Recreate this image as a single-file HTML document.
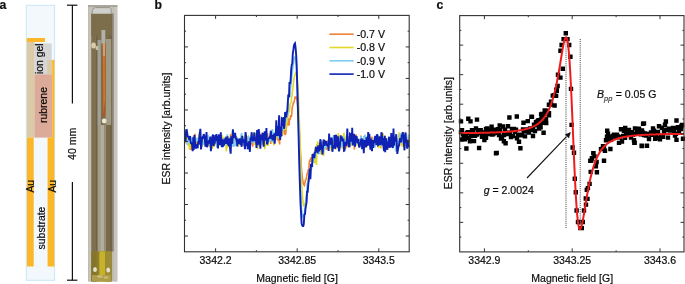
<!DOCTYPE html>
<html><head><meta charset="utf-8"><style>
html,body{margin:0;padding:0;background:#fff;overflow:hidden;}
svg{display:block;font-family:"Liberation Sans", sans-serif;}
svg{will-change:transform;}
text{stroke:#000;stroke-width:0.2px;}
</style></head><body>
<svg width="685" height="284" viewBox="0 0 685 284" fill="#111">
<text x="-0.5" y="9.1" font-size="12.2" font-weight="bold">a</text>
<rect x="26.3" y="5.3" width="28.3" height="275" fill="#f2f8fc" stroke="#c9e7f8" stroke-width="1"/>
<rect x="26.8" y="41.5" width="7.6" height="96" fill="#dccaa6"/>
<rect x="26.8" y="38" width="18.2" height="4" fill="#fbb727"/>
<rect x="34.2" y="43.4" width="17.5" height="31" fill="#d6d6d6"/>
<rect x="34.4" y="74.3" width="17.8" height="63.3" fill="#dcaa98"/>
<rect x="47.2" y="60" width="5.2" height="14.3" fill="#dccaa6"/>
<rect x="52.2" y="59.8" width="2.3" height="78" fill="#fbb727"/>
<rect x="26.9" y="137.5" width="6.8" height="129" fill="#fbb727"/>
<rect x="47.6" y="137.5" width="6.8" height="129" fill="#fbb727"/>
<text transform="translate(42.6,58.8) rotate(-90)" text-anchor="middle" font-size="10.4">ion gel</text>
<text transform="translate(47.2,105) rotate(-90)" text-anchor="middle" font-size="10.4">rubrene</text>
<text transform="translate(33.8,186.2) rotate(-90)" text-anchor="middle" font-size="10.4">Au</text>
<text transform="translate(55.8,186.2) rotate(-90)" text-anchor="middle" font-size="10.4">Au</text>
<text transform="translate(44.9,228) rotate(-90)" text-anchor="middle" font-size="10.4">substrate</text>
<g stroke="#111" stroke-width="1.2" fill="none"><line x1="72.4" y1="5.2" x2="72.4" y2="103.4"/><line x1="72.4" y1="182" x2="72.4" y2="280.2"/><line x1="67" y1="5.2" x2="77.4" y2="5.2"/><line x1="67" y1="280.2" x2="77.4" y2="280.2"/></g>
<text transform="translate(76,143.8) rotate(-90)" text-anchor="middle" font-size="10.6">40 mm</text>
<defs><filter id="bl" x="-0.1" y="-0.05" width="1.2" height="1.1"><feGaussianBlur stdDeviation="0.55"/></filter></defs>
<g filter="url(#bl)">
<rect x="88" y="5" width="29.3" height="276.5" fill="#bfbbb3"/>
<rect x="89" y="5" width="2" height="276.5" fill="#c6c2ba"/>
<rect x="113.8" y="5" width="3.5" height="276.5" fill="#c8c4be"/>
<rect x="88" y="5" width="29.3" height="2" fill="#aaa69e"/>
<rect x="91.3" y="13.5" width="21.2" height="238" fill="#7e6f4f"/>
<rect x="96.2" y="13.5" width="1.4" height="238" fill="#6e5f43"/>
<rect x="97.6" y="40" width="2.6" height="211.5" fill="#a39c8a"/>
<rect x="100.2" y="125" width="4" height="126.5" fill="#b3ad9d"/>
<rect x="104.2" y="125" width="1.8" height="126.5" fill="#9a9280"/>
<rect x="106" y="13.5" width="4.6" height="238" fill="#7a6a4a"/>
<rect x="110.6" y="13.5" width="1.2" height="238" fill="#655736"/>
<rect x="111.8" y="13.5" width="2" height="238" fill="#8f877a"/>
<rect x="91.3" y="13.5" width="20.5" height="22" fill="#7b6d4b"/>
<rect x="91.3" y="7" width="21.2" height="6.8" fill="#c9c9c4" rx="1.5"/>
<rect x="92.5" y="7.8" width="19" height="5" fill="#cfcfcb" rx="2"/>
<path d="M92.3 13.5 V10.5 Q92.3 7.6 95.5 7.6 H109.5 Q111.2 7.6 111.2 10 V13.5" fill="none" stroke="#8f8d86" stroke-width="0.9"/>
<rect x="101.4" y="30" width="3.9" height="14" fill="#aeb2aa"/>
<rect x="105.6" y="39" width="5.6" height="86" fill="#a09a84"/>
<rect x="97.8" y="40" width="3" height="85" fill="#9fa29a"/>
<ellipse cx="93.6" cy="45.5" rx="2.3" ry="3" fill="#d8cfa8"/>
<ellipse cx="97" cy="48" rx="1.5" ry="2.2" fill="#cbc29c"/>
<path d="M102.4 43 L105.4 43 L105.6 70 L105.4 116 L102.6 118 L102 70 Z" fill="#a9582a"/>
<path d="M102.8 43 L105 43 L105 56 L102.9 56 Z" fill="#d2a070"/>
<path d="M103 56 L104.8 56 L104.9 100 L103.4 114 Z" fill="#cc7a2c"/>
<circle cx="104.2" cy="121" r="2.4" fill="#efe9d2"/>
<rect x="91.3" y="251.3" width="20.5" height="30.2" fill="#8e7e2e"/>
<rect x="91.3" y="251.3" width="5.5" height="30.2" fill="#85752c"/>
<rect x="99.3" y="251.3" width="5.8" height="30.2" fill="#c8b22c"/>
<rect x="105.1" y="251.3" width="6.2" height="30.2" fill="#9c8c34"/>
<ellipse cx="95" cy="269.5" rx="1.9" ry="2.5" fill="#e6e2cc"/>
<ellipse cx="108.2" cy="270" rx="1.9" ry="2.5" fill="#e6e2cc"/>
<rect x="92" y="275" width="19" height="6.2" fill="#ad9c48"/>
<ellipse cx="100" cy="276.5" rx="3" ry="1.3" fill="#cdbf78"/>
<ellipse cx="106" cy="277.5" rx="2.5" ry="1.2" fill="#c9bb70"/>
</g>
<text x="154.5" y="9.1" font-size="12.2" font-weight="bold">b</text>
<polyline points="185.0,143.3 185.6,137.6 186.1,135.6 186.7,131.0 187.2,139.8 187.8,145.2 188.3,141.1 188.9,142.7 189.4,144.4 190.0,138.0 190.5,150.0 191.1,138.0 191.6,142.2 192.2,150.3 192.7,140.6 193.3,141.3 193.8,139.2 194.4,142.1 194.9,133.7 195.5,138.8 196.0,146.7 196.6,141.7 197.1,140.1 197.7,142.2 198.2,142.4 198.8,141.5 199.3,142.9 199.9,135.3 200.4,143.0 201.0,138.7 201.5,143.6 202.1,140.9 202.6,137.6 203.2,140.7 203.7,137.5 204.3,144.4 204.8,140.8 205.4,143.8 205.9,137.1 206.5,146.4 207.0,139.9 207.6,145.6 208.1,143.8 208.7,137.2 209.2,142.0 209.8,139.1 210.3,142.3 210.9,145.8 211.4,143.3 212.0,144.6 212.5,136.9 213.1,141.6 213.6,142.1 214.2,144.6 214.7,138.8 215.3,142.9 215.8,142.4 216.4,135.7 216.9,137.4 217.5,142.4 218.0,136.9 218.6,136.7 219.1,143.9 219.7,141.9 220.2,140.1 220.8,141.3 221.3,139.5 221.9,139.1 222.4,139.3 223.0,142.2 223.5,145.4 224.1,139.3 224.6,140.6 225.2,140.1 225.7,136.6 226.3,141.7 226.8,143.8 227.4,138.0 227.9,143.7 228.5,138.9 229.0,144.8 229.6,145.0 230.1,139.6 230.7,134.0 231.2,139.7 231.8,136.1 232.3,136.4 232.9,140.0 233.4,145.5 234.0,140.5 234.5,140.1 235.1,134.5 235.6,138.8 236.2,136.1 236.7,142.6 237.3,139.0 237.8,140.6 238.4,140.7 238.9,140.1 239.5,144.0 240.0,142.4 240.6,139.7 241.1,141.3 241.7,142.6 242.2,145.4 242.8,141.2 243.3,145.6 243.9,138.7 244.4,139.9 245.0,135.6 245.5,143.5 246.1,137.2 246.6,137.2 247.2,143.5 247.7,138.8 248.3,138.1 248.8,143.9 249.4,140.0 249.9,143.7 250.5,139.2 251.0,143.1 251.6,144.2 252.1,140.8 252.7,146.7 253.2,139.2 253.8,139.8 254.3,140.8 254.9,143.9 255.4,139.5 256.0,138.9 256.5,141.3 257.1,144.6 257.6,138.9 258.2,136.0 258.7,139.9 259.3,142.4 259.8,138.4 260.4,140.6 260.9,133.8 261.5,140.2 262.0,140.5 262.6,142.2 263.1,141.1 263.7,142.6 264.2,136.6 264.8,142.2 265.3,134.3 265.9,137.8 266.4,143.5 267.0,142.6 267.5,133.3 268.1,141.6 268.6,138.0 269.2,136.8 269.7,140.0 270.3,139.7 270.8,143.9 271.4,134.2 271.9,137.5 272.5,138.3 273.0,132.5 273.6,142.6 274.1,144.4 274.7,136.2 275.2,139.4 275.8,137.0 276.3,138.7 276.9,135.2 277.4,140.1 278.0,133.1 278.5,141.4 279.1,137.7 279.6,144.4 280.2,130.2 280.7,135.1 281.3,130.6 281.8,134.1 282.4,135.5 282.9,130.4 283.5,128.0 284.0,126.3 284.6,132.2 285.1,135.0 285.7,133.7 286.2,128.9 286.8,124.4 287.3,125.2 287.9,119.9 288.4,118.2 289.0,125.6 289.5,119.2 290.1,119.2 290.6,115.2 291.2,117.3 291.7,114.7 292.3,107.2 292.8,105.6 293.4,102.7 293.9,102.7 294.5,100.1 295.0,97.4 295.6,97.9 296.1,97.1 296.7,98.1 297.2,101.0 297.8,107.1 298.3,114.3 298.9,122.5 299.4,132.7 300.0,143.5 300.5,152.9 301.1,162.6 301.6,170.9 302.2,176.5 302.7,180.3 303.3,183.5 303.8,184.7 304.4,185.4 304.9,182.9 305.5,180.0 306.0,179.6 306.6,177.3 307.1,173.5 307.7,172.9 308.2,170.0 308.8,170.3 309.3,162.1 309.9,160.3 310.4,160.7 311.0,157.4 311.5,161.9 312.1,158.1 312.6,154.8 313.2,158.9 313.7,154.4 314.3,155.1 314.8,153.6 315.4,149.6 315.9,148.9 316.5,148.8 317.0,144.5 317.6,146.5 318.1,150.1 318.7,147.8 319.2,143.1 319.8,154.0 320.3,142.1 320.9,147.4 321.4,147.5 322.0,149.1 322.5,141.6 323.1,144.4 323.6,143.5 324.2,147.8 324.7,145.1 325.3,145.1 325.8,145.3 326.4,150.0 326.9,145.6 327.5,146.2 328.0,139.9 328.6,145.3 329.1,138.6 329.7,146.0 330.2,143.2 330.8,139.7 331.3,138.7 331.9,142.2 332.4,142.9 333.0,140.5 333.5,141.3 334.1,141.3 334.6,140.5 335.2,141.6 335.7,143.2 336.3,146.6 336.8,144.3 337.4,140.2 337.9,147.6 338.5,146.1 339.0,141.2 339.6,145.5 340.1,140.2 340.7,139.5 341.2,139.6 341.8,147.5 342.3,142.4 342.9,143.0 343.4,142.2 344.0,140.6 344.5,143.6 345.1,144.2 345.6,148.6 346.2,139.0 346.7,147.1 347.3,144.2 347.8,136.0 348.4,145.2 348.9,147.4 349.5,145.6 350.0,142.7 350.6,142.4 351.1,135.1 351.7,142.9 352.2,142.4 352.8,138.6 353.3,142.5 353.9,139.5 354.4,149.4 355.0,137.6 355.5,138.7 356.1,134.4 356.6,140.3 357.2,142.0 357.7,141.6 358.3,139.4 358.8,144.5 359.4,142.3 359.9,145.5 360.5,141.1 361.0,135.5 361.6,141.0 362.1,138.0 362.7,144.2 363.2,139.4 363.8,140.6 364.3,141.3 364.9,136.2 365.4,140.0 366.0,144.3 366.5,139.4 367.1,140.7 367.6,141.8 368.2,139.0 368.7,140.3 369.3,142.7 369.8,140.0 370.4,141.4 370.9,140.7 371.5,137.7 372.0,136.8 372.6,147.9 373.1,145.9 373.7,140.8 374.2,144.4 374.8,144.9 375.3,144.4 375.9,139.9 376.4,136.3 377.0,136.9 377.5,140.3 378.1,145.7 378.6,146.5 379.2,140.3 379.7,140.0 380.3,145.2 380.8,148.2 381.4,138.0 381.9,142.8 382.5,141.7 383.0,140.1 383.6,140.1 384.1,140.0 384.7,141.2 385.2,135.9 385.8,141.2 386.3,143.8 386.9,143.7 387.4,143.9 388.0,142.3 388.5,141.8 389.1,147.8 389.6,140.6 390.2,141.7 390.7,145.4 391.3,141.3 391.8,136.8 392.4,139.3 392.9,139.7 393.5,140.6 394.0,139.6 394.6,144.5 395.1,143.6 395.7,142.8 396.2,139.8 396.8,144.6 397.3,144.5 397.9,148.6 398.4,139.1 399.0,140.8 399.5,145.9 400.1,137.5 400.6,142.1 401.2,141.9 401.7,141.4 402.3,138.0 402.8,141.3 403.4,136.2 403.9,145.2 404.5,139.5 405.0,141.7 405.6,141.1 406.1,141.8 406.7,141.6 407.2,142.6 407.8,139.9 408.3,141.3 408.9,137.4" fill="none" stroke="#f08234" stroke-width="1.6" stroke-linejoin="miter" stroke-miterlimit="3"/>
<polyline points="185.0,142.3 185.6,140.9 186.1,138.9 186.7,132.3 187.2,141.0 187.8,144.5 188.3,144.9 188.9,138.9 189.4,149.4 190.0,148.3 190.5,140.1 191.1,140.4 191.6,144.6 192.2,140.0 192.7,141.8 193.3,145.6 193.8,145.5 194.4,138.9 194.9,139.2 195.5,138.9 196.0,140.9 196.6,141.2 197.1,139.5 197.7,143.9 198.2,141.1 198.8,141.0 199.3,133.4 199.9,135.7 200.4,138.3 201.0,142.3 201.5,137.6 202.1,146.8 202.6,141.5 203.2,141.9 203.7,141.4 204.3,142.8 204.8,144.4 205.4,138.8 205.9,146.9 206.5,138.0 207.0,142.9 207.6,140.1 208.1,140.3 208.7,143.5 209.2,141.7 209.8,147.0 210.3,139.0 210.9,142.9 211.4,143.1 212.0,148.9 212.5,147.0 213.1,143.6 213.6,147.2 214.2,144.1 214.7,137.9 215.3,142.1 215.8,145.5 216.4,138.9 216.9,146.7 217.5,142.2 218.0,138.5 218.6,142.6 219.1,134.9 219.7,138.2 220.2,136.9 220.8,142.8 221.3,137.0 221.9,134.9 222.4,142.0 223.0,139.0 223.5,138.1 224.1,138.6 224.6,144.8 225.2,141.5 225.7,138.0 226.3,151.5 226.8,142.7 227.4,148.1 227.9,144.8 228.5,146.0 229.0,137.5 229.6,138.6 230.1,143.2 230.7,140.5 231.2,141.1 231.8,144.9 232.3,132.0 232.9,139.5 233.4,146.6 234.0,139.0 234.5,140.9 235.1,142.2 235.6,141.9 236.2,141.9 236.7,137.2 237.3,142.0 237.8,138.4 238.4,146.7 238.9,138.3 239.5,141.7 240.0,139.9 240.6,145.0 241.1,141.1 241.7,143.3 242.2,138.5 242.8,139.2 243.3,137.0 243.9,140.0 244.4,139.5 245.0,136.3 245.5,135.8 246.1,141.2 246.6,139.9 247.2,137.8 247.7,137.0 248.3,136.3 248.8,140.8 249.4,138.4 249.9,138.0 250.5,138.3 251.0,138.6 251.6,139.2 252.1,140.7 252.7,133.7 253.2,139.3 253.8,135.7 254.3,138.9 254.9,145.0 255.4,132.9 256.0,135.3 256.5,138.2 257.1,131.4 257.6,149.2 258.2,137.6 258.7,146.2 259.3,139.7 259.8,144.4 260.4,143.0 260.9,138.7 261.5,141.7 262.0,137.2 262.6,137.9 263.1,145.3 263.7,136.3 264.2,136.1 264.8,149.2 265.3,137.9 265.9,140.5 266.4,145.5 267.0,137.3 267.5,136.9 268.1,145.9 268.6,138.8 269.2,139.8 269.7,137.4 270.3,140.5 270.8,132.3 271.4,138.9 271.9,141.9 272.5,141.6 273.0,135.8 273.6,140.0 274.1,145.5 274.7,137.6 275.2,139.5 275.8,135.3 276.3,129.8 276.9,138.9 277.4,132.1 278.0,132.7 278.5,135.2 279.1,134.5 279.6,133.7 280.2,137.9 280.7,133.6 281.3,132.6 281.8,127.7 282.4,134.6 282.9,125.4 283.5,120.8 284.0,125.4 284.6,130.1 285.1,127.5 285.7,129.7 286.2,125.0 286.8,123.3 287.3,121.3 287.9,115.7 288.4,114.2 289.0,111.8 289.5,111.5 290.1,104.4 290.6,103.2 291.2,102.1 291.7,97.3 292.3,92.9 292.8,89.0 293.4,83.2 293.9,79.4 294.5,76.7 295.0,75.1 295.6,72.9 296.1,72.2 296.7,74.0 297.2,78.3 297.8,83.5 298.3,94.7 298.9,108.4 299.4,124.1 300.0,139.6 300.5,156.1 301.1,170.4 301.6,182.4 302.2,191.7 302.7,198.9 303.3,203.9 303.8,205.9 304.4,205.7 304.9,204.5 305.5,201.9 306.0,198.1 306.6,194.9 307.1,190.9 307.7,182.1 308.2,179.3 308.8,180.0 309.3,178.3 309.9,173.1 310.4,168.8 311.0,168.1 311.5,166.8 312.1,163.6 312.6,153.5 313.2,160.6 313.7,160.6 314.3,156.8 314.8,163.5 315.4,148.6 315.9,146.1 316.5,164.9 317.0,147.4 317.6,141.2 318.1,147.6 318.7,152.3 319.2,145.8 319.8,146.4 320.3,150.4 320.9,154.5 321.4,149.6 322.0,147.5 322.5,144.3 323.1,148.6 323.6,156.0 324.2,140.9 324.7,140.8 325.3,143.3 325.8,147.2 326.4,146.6 326.9,143.2 327.5,142.1 328.0,148.9 328.6,145.4 329.1,148.6 329.7,142.5 330.2,147.6 330.8,139.9 331.3,150.9 331.9,141.4 332.4,141.5 333.0,144.4 333.5,142.0 334.1,140.3 334.6,144.3 335.2,140.0 335.7,149.7 336.3,139.7 336.8,145.4 337.4,139.4 337.9,135.6 338.5,133.3 339.0,142.3 339.6,136.7 340.1,142.5 340.7,138.9 341.2,141.6 341.8,141.8 342.3,148.6 342.9,141.1 343.4,136.5 344.0,132.9 344.5,145.2 345.1,142.1 345.6,147.1 346.2,135.6 346.7,140.9 347.3,138.5 347.8,143.5 348.4,140.4 348.9,146.9 349.5,139.9 350.0,140.7 350.6,139.1 351.1,143.3 351.7,145.6 352.2,143.5 352.8,139.1 353.3,137.4 353.9,138.0 354.4,142.1 355.0,139.5 355.5,140.8 356.1,145.7 356.6,143.2 357.2,142.2 357.7,139.5 358.3,140.6 358.8,140.2 359.4,141.5 359.9,140.5 360.5,141.9 361.0,138.9 361.6,146.2 362.1,142.7 362.7,142.4 363.2,144.7 363.8,137.2 364.3,136.7 364.9,135.6 365.4,138.4 366.0,143.4 366.5,141.9 367.1,147.2 367.6,135.9 368.2,142.9 368.7,136.4 369.3,136.3 369.8,136.4 370.4,145.8 370.9,141.5 371.5,146.0 372.0,141.5 372.6,143.8 373.1,143.7 373.7,143.3 374.2,141.7 374.8,144.8 375.3,141.9 375.9,141.5 376.4,141.3 377.0,138.9 377.5,135.4 378.1,138.2 378.6,147.9 379.2,141.7 379.7,137.3 380.3,140.1 380.8,144.8 381.4,148.2 381.9,134.0 382.5,135.0 383.0,133.0 383.6,138.8 384.1,137.6 384.7,145.5 385.2,143.6 385.8,139.0 386.3,149.9 386.9,138.8 387.4,142.3 388.0,144.0 388.5,137.3 389.1,141.6 389.6,142.1 390.2,140.5 390.7,143.8 391.3,140.5 391.8,138.6 392.4,144.3 392.9,139.2 393.5,142.8 394.0,139.2 394.6,143.3 395.1,141.6 395.7,136.5 396.2,142.7 396.8,139.4 397.3,147.8 397.9,139.0 398.4,144.3 399.0,132.4 399.5,139.1 400.1,134.2 400.6,141.2 401.2,138.0 401.7,146.3 402.3,143.7 402.8,146.7 403.4,137.6 403.9,132.6 404.5,141.0 405.0,146.4 405.6,142.2 406.1,148.3 406.7,140.1 407.2,138.5 407.8,143.1 408.3,145.2 408.9,139.6" fill="none" stroke="#e2d829" stroke-width="1.6" stroke-linejoin="miter" stroke-miterlimit="3"/>
<polyline points="185.0,137.2 185.6,140.0 186.1,140.0 186.7,140.1 187.2,144.7 187.8,141.4 188.3,142.2 188.9,141.0 189.4,137.9 190.0,141.5 190.5,143.4 191.1,141.3 191.6,139.1 192.2,136.8 192.7,146.5 193.3,138.2 193.8,138.2 194.4,136.5 194.9,142.0 195.5,141.3 196.0,138.3 196.6,140.3 197.1,141.6 197.7,139.6 198.2,137.4 198.8,139.9 199.3,141.6 199.9,137.6 200.4,138.9 201.0,142.9 201.5,144.5 202.1,143.5 202.6,141.8 203.2,144.8 203.7,139.4 204.3,140.5 204.8,140.2 205.4,143.8 205.9,138.3 206.5,139.3 207.0,146.3 207.6,139.3 208.1,134.7 208.7,143.4 209.2,144.1 209.8,137.8 210.3,137.8 210.9,138.8 211.4,141.1 212.0,144.9 212.5,144.1 213.1,136.3 213.6,145.8 214.2,138.3 214.7,141.8 215.3,140.6 215.8,139.6 216.4,137.0 216.9,148.0 217.5,140.8 218.0,145.5 218.6,138.6 219.1,142.9 219.7,139.2 220.2,142.3 220.8,144.2 221.3,138.1 221.9,140.5 222.4,142.3 223.0,144.5 223.5,144.3 224.1,139.1 224.6,137.5 225.2,140.2 225.7,143.7 226.3,144.3 226.8,136.5 227.4,134.4 227.9,138.9 228.5,141.8 229.0,144.8 229.6,138.1 230.1,140.1 230.7,144.2 231.2,138.3 231.8,143.6 232.3,146.0 232.9,144.4 233.4,146.8 234.0,139.9 234.5,136.1 235.1,146.3 235.6,143.5 236.2,145.5 236.7,141.6 237.3,137.2 237.8,139.4 238.4,139.8 238.9,138.7 239.5,141.5 240.0,142.0 240.6,139.1 241.1,135.0 241.7,133.0 242.2,140.5 242.8,140.4 243.3,138.2 243.9,146.0 244.4,138.4 245.0,142.7 245.5,142.5 246.1,138.4 246.6,145.0 247.2,142.0 247.7,141.6 248.3,136.2 248.8,138.1 249.4,137.0 249.9,139.9 250.5,140.5 251.0,143.0 251.6,135.1 252.1,141.1 252.7,140.9 253.2,143.0 253.8,132.0 254.3,142.1 254.9,135.8 255.4,139.8 256.0,138.1 256.5,137.1 257.1,143.3 257.6,142.5 258.2,143.9 258.7,140.8 259.3,135.4 259.8,142.5 260.4,141.2 260.9,144.8 261.5,140.5 262.0,137.5 262.6,141.0 263.1,136.3 263.7,138.6 264.2,139.1 264.8,140.8 265.3,139.1 265.9,137.2 266.4,140.8 267.0,142.5 267.5,141.6 268.1,141.5 268.6,138.9 269.2,141.8 269.7,136.7 270.3,132.6 270.8,136.8 271.4,141.6 271.9,131.9 272.5,129.1 273.0,141.9 273.6,131.8 274.1,138.2 274.7,133.3 275.2,138.5 275.8,131.1 276.3,131.4 276.9,135.1 277.4,133.2 278.0,135.5 278.5,138.3 279.1,130.8 279.6,131.3 280.2,130.1 280.7,128.3 281.3,131.8 281.8,127.0 282.4,128.6 282.9,130.9 283.5,120.7 284.0,122.5 284.6,121.6 285.1,119.3 285.7,122.2 286.2,118.3 286.8,114.8 287.3,109.8 287.9,115.1 288.4,96.0 289.0,95.5 289.5,96.9 290.1,96.5 290.6,87.4 291.2,84.2 291.7,76.3 292.3,73.5 292.8,67.9 293.4,64.2 293.9,59.8 294.5,57.3 295.0,56.9 295.6,58.2 296.1,64.1 296.7,73.1 297.2,84.7 297.8,101.4 298.3,119.4 298.9,138.7 299.4,158.1 300.0,174.5 300.5,190.2 301.1,200.8 301.6,209.6 302.2,213.9 302.7,217.1 303.3,216.7 303.8,214.8 304.4,212.9 304.9,209.2 305.5,205.5 306.0,198.6 306.6,196.1 307.1,185.5 307.7,182.4 308.2,181.5 308.8,177.2 309.3,173.1 309.9,176.2 310.4,175.5 311.0,166.4 311.5,169.4 312.1,162.2 312.6,159.3 313.2,162.7 313.7,159.0 314.3,151.6 314.8,155.7 315.4,157.4 315.9,147.8 316.5,149.7 317.0,152.0 317.6,146.7 318.1,146.8 318.7,153.0 319.2,154.2 319.8,146.9 320.3,145.7 320.9,145.8 321.4,140.6 322.0,146.5 322.5,147.6 323.1,148.5 323.6,152.3 324.2,142.3 324.7,148.9 325.3,145.4 325.8,143.3 326.4,147.2 326.9,143.7 327.5,141.6 328.0,146.4 328.6,141.8 329.1,144.6 329.7,146.1 330.2,144.5 330.8,139.7 331.3,145.7 331.9,146.6 332.4,139.8 333.0,139.6 333.5,135.0 334.1,141.6 334.6,137.8 335.2,142.8 335.7,143.5 336.3,146.3 336.8,141.0 337.4,140.2 337.9,143.8 338.5,140.8 339.0,142.8 339.6,144.0 340.1,138.2 340.7,147.1 341.2,141.5 341.8,145.9 342.3,145.6 342.9,139.6 343.4,136.2 344.0,144.8 344.5,145.7 345.1,140.3 345.6,141.3 346.2,140.2 346.7,142.9 347.3,136.3 347.8,140.6 348.4,144.3 348.9,143.7 349.5,137.8 350.0,146.7 350.6,138.2 351.1,142.0 351.7,138.4 352.2,141.8 352.8,141.0 353.3,142.5 353.9,145.4 354.4,137.6 355.0,139.4 355.5,142.2 356.1,136.8 356.6,142.1 357.2,141.4 357.7,141.0 358.3,143.5 358.8,144.9 359.4,141.3 359.9,139.2 360.5,142.4 361.0,136.1 361.6,142.4 362.1,143.5 362.7,144.2 363.2,148.1 363.8,136.1 364.3,141.2 364.9,134.7 365.4,139.1 366.0,136.6 366.5,143.2 367.1,143.2 367.6,136.0 368.2,141.8 368.7,142.2 369.3,144.7 369.8,136.9 370.4,144.0 370.9,140.5 371.5,140.0 372.0,143.1 372.6,142.6 373.1,141.6 373.7,143.7 374.2,146.4 374.8,147.7 375.3,142.6 375.9,143.5 376.4,134.9 377.0,144.0 377.5,134.0 378.1,141.5 378.6,144.0 379.2,137.9 379.7,141.1 380.3,137.7 380.8,145.9 381.4,140.7 381.9,145.5 382.5,139.9 383.0,142.7 383.6,137.6 384.1,136.5 384.7,146.9 385.2,148.1 385.8,140.4 386.3,140.0 386.9,140.3 387.4,142.2 388.0,138.9 388.5,144.3 389.1,142.1 389.6,143.3 390.2,140.7 390.7,145.5 391.3,138.7 391.8,136.7 392.4,141.0 392.9,142.6 393.5,143.1 394.0,140.3 394.6,138.8 395.1,139.8 395.7,151.4 396.2,136.2 396.8,140.2 397.3,142.0 397.9,141.1 398.4,143.8 399.0,143.8 399.5,142.3 400.1,134.1 400.6,133.8 401.2,138.8 401.7,141.2 402.3,142.2 402.8,140.0 403.4,137.3 403.9,143.4 404.5,139.1 405.0,143.5 405.6,141.0 406.1,138.2 406.7,146.7 407.2,140.2 407.8,139.5 408.3,135.6 408.9,136.4" fill="none" stroke="#7fcdf3" stroke-width="1.6" stroke-linejoin="miter" stroke-miterlimit="3"/>
<polyline points="185.0,137.2 185.6,141.5 186.1,130.3 186.7,130.1 187.2,133.0 187.8,136.4 188.3,136.8 188.9,138.4 189.4,139.9 190.0,136.0 190.5,140.9 191.1,144.2 191.6,142.4 192.2,145.9 192.7,151.2 193.3,137.4 193.8,149.9 194.4,135.0 194.9,140.6 195.5,146.6 196.0,148.6 196.6,144.8 197.1,144.9 197.7,148.3 198.2,141.4 198.8,144.8 199.3,137.0 199.9,132.2 200.4,128.9 201.0,149.4 201.5,144.6 202.1,137.9 202.6,137.3 203.2,137.6 203.7,134.1 204.3,135.8 204.8,138.3 205.4,146.6 205.9,142.5 206.5,132.0 207.0,147.2 207.6,145.6 208.1,141.7 208.7,141.1 209.2,143.5 209.8,141.6 210.3,136.6 210.9,151.2 211.4,145.8 212.0,143.0 212.5,136.2 213.1,134.6 213.6,146.0 214.2,142.5 214.7,143.7 215.3,135.0 215.8,141.1 216.4,134.0 216.9,138.4 217.5,140.5 218.0,148.5 218.6,136.7 219.1,134.5 219.7,143.9 220.2,144.9 220.8,132.4 221.3,144.1 221.9,147.0 222.4,139.0 223.0,141.8 223.5,145.4 224.1,144.6 224.6,140.2 225.2,139.2 225.7,142.2 226.3,143.7 226.8,139.3 227.4,136.4 227.9,144.0 228.5,145.0 229.0,146.0 229.6,138.4 230.1,149.3 230.7,153.6 231.2,136.3 231.8,142.2 232.3,143.8 232.9,129.4 233.4,138.3 234.0,133.7 234.5,137.5 235.1,132.9 235.6,137.3 236.2,139.3 236.7,138.2 237.3,146.5 237.8,139.3 238.4,143.7 238.9,142.7 239.5,139.5 240.0,139.3 240.6,144.8 241.1,144.0 241.7,146.8 242.2,135.8 242.8,142.5 243.3,139.7 243.9,140.9 244.4,144.5 245.0,149.2 245.5,132.1 246.1,135.8 246.6,145.8 247.2,142.6 247.7,149.3 248.3,145.2 248.8,141.3 249.4,143.3 249.9,151.9 250.5,137.9 251.0,140.4 251.6,132.2 252.1,138.0 252.7,141.3 253.2,138.9 253.8,141.3 254.3,132.5 254.9,138.1 255.4,139.7 256.0,139.7 256.5,148.0 257.1,130.0 257.6,145.0 258.2,143.4 258.7,129.0 259.3,133.8 259.8,142.1 260.4,148.6 260.9,134.7 261.5,137.8 262.0,139.7 262.6,132.7 263.1,141.0 263.7,146.7 264.2,136.0 264.8,131.4 265.3,140.1 265.9,138.4 266.4,128.1 267.0,144.1 267.5,143.4 268.1,139.0 268.6,138.6 269.2,138.0 269.7,137.0 270.3,138.8 270.8,130.7 271.4,135.8 271.9,135.0 272.5,140.3 273.0,137.7 273.6,135.1 274.1,134.7 274.7,143.7 275.2,136.8 275.8,134.1 276.3,120.4 276.9,135.9 277.4,126.0 278.0,134.7 278.5,135.8 279.1,115.2 279.6,132.9 280.2,140.0 280.7,126.9 281.3,136.4 281.8,118.6 282.4,119.2 282.9,126.0 283.5,117.0 284.0,128.8 284.6,124.7 285.1,112.0 285.7,116.0 286.2,117.5 286.8,112.7 287.3,110.7 287.9,100.7 288.4,94.4 289.0,97.1 289.5,82.0 290.1,84.2 290.6,80.5 291.2,69.7 291.7,65.0 292.3,63.6 292.8,53.4 293.4,49.7 293.9,45.7 294.5,43.9 295.0,43.3 295.6,47.8 296.1,53.9 296.7,65.4 297.2,85.0 297.8,104.6 298.3,124.5 298.9,148.5 299.4,168.6 300.0,187.7 300.5,203.2 301.1,214.2 301.6,223.4 302.2,225.4 302.7,226.1 303.3,226.1 303.8,224.2 304.4,214.1 304.9,215.0 305.5,208.6 306.0,205.6 306.6,201.9 307.1,190.9 307.7,192.8 308.2,185.0 308.8,180.0 309.3,173.6 309.9,168.5 310.4,179.2 311.0,163.9 311.5,164.8 312.1,166.9 312.6,154.0 313.2,157.0 313.7,154.0 314.3,158.1 314.8,153.0 315.4,151.9 315.9,146.8 316.5,151.1 317.0,151.6 317.6,152.2 318.1,145.6 318.7,147.4 319.2,151.2 319.8,148.8 320.3,139.2 320.9,143.0 321.4,147.9 322.0,147.3 322.5,154.8 323.1,146.2 323.6,139.5 324.2,141.2 324.7,145.9 325.3,140.6 325.8,143.4 326.4,141.2 326.9,144.7 327.5,146.0 328.0,143.9 328.6,150.9 329.1,133.5 329.7,144.6 330.2,143.7 330.8,143.5 331.3,137.5 331.9,139.2 332.4,151.8 333.0,147.3 333.5,145.6 334.1,148.0 334.6,135.1 335.2,148.9 335.7,134.9 336.3,136.1 336.8,140.6 337.4,147.5 337.9,136.4 338.5,147.0 339.0,151.4 339.6,148.3 340.1,144.0 340.7,135.3 341.2,138.8 341.8,136.6 342.3,140.5 342.9,140.7 343.4,138.5 344.0,150.8 344.5,150.6 345.1,143.5 345.6,142.0 346.2,145.8 346.7,142.4 347.3,128.5 347.8,140.1 348.4,142.0 348.9,146.4 349.5,146.4 350.0,133.8 350.6,134.3 351.1,136.6 351.7,141.6 352.2,127.7 352.8,145.4 353.3,137.4 353.9,134.0 354.4,136.6 355.0,146.8 355.5,136.6 356.1,137.2 356.6,136.1 357.2,142.1 357.7,143.2 358.3,138.9 358.8,145.6 359.4,147.5 359.9,145.2 360.5,143.6 361.0,140.0 361.6,138.6 362.1,149.3 362.7,139.5 363.2,140.8 363.8,153.3 364.3,140.3 364.9,142.7 365.4,140.3 366.0,147.4 366.5,137.2 367.1,141.2 367.6,146.0 368.2,132.0 368.7,145.1 369.3,133.8 369.8,142.3 370.4,149.7 370.9,138.5 371.5,148.0 372.0,151.1 372.6,140.1 373.1,147.8 373.7,141.6 374.2,143.1 374.8,137.5 375.3,136.2 375.9,140.6 376.4,145.2 377.0,134.3 377.5,135.4 378.1,145.0 378.6,144.6 379.2,142.3 379.7,136.3 380.3,144.7 380.8,142.7 381.4,132.3 381.9,133.9 382.5,145.5 383.0,138.0 383.6,148.0 384.1,151.0 384.7,135.8 385.2,152.1 385.8,138.1 386.3,141.2 386.9,146.2 387.4,149.8 388.0,141.9 388.5,142.9 389.1,136.7 389.6,147.6 390.2,146.3 390.7,146.4 391.3,133.1 391.8,145.5 392.4,145.1 392.9,148.0 393.5,128.6 394.0,145.7 394.6,136.7 395.1,141.3 395.7,140.3 396.2,134.2 396.8,144.9 397.3,153.9 397.9,150.0 398.4,147.2 399.0,145.4 399.5,141.6 400.1,138.1 400.6,139.3 401.2,142.4 401.7,135.6 402.3,134.4 402.8,132.2 403.4,136.6 403.9,143.6 404.5,150.3 405.0,136.0 405.6,132.5 406.1,141.2 406.7,141.1 407.2,148.7 407.8,139.8 408.3,147.1 408.9,145.5" fill="none" stroke="#0f22b4" stroke-width="1.9" stroke-linejoin="miter" stroke-miterlimit="3"/>
<rect x="184.5" y="15.4" width="224.7" height="236.4" fill="none" stroke="#333" stroke-width="1.1"/>
<path d="M184.5 31.16h1.6M409.2 31.16h-1.6M184.5 46.92h3.5M409.2 46.92h-3.5M184.5 62.68h1.6M409.2 62.68h-1.6M184.5 78.44h3.5M409.2 78.44h-3.5M184.5 94.20h1.6M409.2 94.20h-1.6M184.5 109.96h3.5M409.2 109.96h-3.5M184.5 125.72h1.6M409.2 125.72h-1.6M184.5 141.48h3.5M409.2 141.48h-3.5M184.5 157.24h1.6M409.2 157.24h-1.6M184.5 173.00h3.5M409.2 173.00h-3.5M184.5 188.76h1.6M409.2 188.76h-1.6M184.5 204.52h3.5M409.2 204.52h-3.5M184.5 220.28h1.6M409.2 220.28h-1.6M184.5 236.04h3.5M409.2 236.04h-3.5M215.6 251.8v-3.5M215.6 15.4v3.5M256.4 251.8v-1.6M256.4 15.4v1.6M297.2 251.8v-3.5M297.2 15.4v3.5M338.0 251.8v-1.6M338.0 15.4v1.6M378.8 251.8v-3.5M378.8 15.4v3.5" stroke="#333" stroke-width="1" fill="none"/>
<text x="215.6" y="264" font-size="10.5" text-anchor="middle">3342.2</text>
<text x="297.2" y="264" font-size="10.5" text-anchor="middle">3342.85</text>
<text x="378.8" y="264" font-size="10.5" text-anchor="middle">3343.5</text>
<text x="297" y="282" font-size="10.5" text-anchor="middle">Magnetic field [G]</text>
<text transform="translate(170,128.5) rotate(-90)" font-size="10.5" text-anchor="middle">ESR intensity [arb.units]</text>
<line x1="329.4" y1="34.2" x2="353.7" y2="34.2" stroke="#f08234" stroke-width="1.6"/>
<text x="356.7" y="38.0" font-size="10.6">-0.7 V</text>
<line x1="329.4" y1="47.5" x2="353.7" y2="47.5" stroke="#e2d829" stroke-width="1.6"/>
<text x="356.7" y="51.3" font-size="10.6">-0.8 V</text>
<line x1="329.4" y1="60.8" x2="353.7" y2="60.8" stroke="#7fcdf3" stroke-width="1.6"/>
<text x="356.7" y="64.6" font-size="10.6">-0.9 V</text>
<line x1="329.4" y1="74.1" x2="353.7" y2="74.1" stroke="#0f22b4" stroke-width="1.6"/>
<text x="356.7" y="77.9" font-size="10.6">-1.0 V</text>
<text x="436.4" y="9.2" font-size="12.2" font-weight="bold">c</text>
<g stroke="#444" stroke-width="1" stroke-dasharray="1.05,1.05"><line x1="566" y1="38" x2="566" y2="229"/><line x1="580.2" y1="39" x2="580.2" y2="229"/></g>
<path d="M458.8 129.9h4.4v4.4h-4.4zM459.8 127.9h4.4v4.4h-4.4zM460.8 132.0h4.4v4.4h-4.4zM461.8 134.5h4.4v4.4h-4.4zM462.8 137.2h4.4v4.4h-4.4zM463.8 133.3h4.4v4.4h-4.4zM464.8 130.8h4.4v4.4h-4.4zM465.8 129.9h4.4v4.4h-4.4zM466.8 135.7h4.4v4.4h-4.4zM467.8 139.0h4.4v4.4h-4.4zM468.8 133.9h4.4v4.4h-4.4zM469.8 128.1h4.4v4.4h-4.4zM470.8 129.1h4.4v4.4h-4.4zM471.8 138.9h4.4v4.4h-4.4zM472.8 133.5h4.4v4.4h-4.4zM473.8 126.2h4.4v4.4h-4.4zM474.8 132.4h4.4v4.4h-4.4zM475.8 128.3h4.4v4.4h-4.4zM476.8 130.3h4.4v4.4h-4.4zM477.8 130.8h4.4v4.4h-4.4zM478.8 129.9h4.4v4.4h-4.4zM479.8 134.7h4.4v4.4h-4.4zM480.8 132.4h4.4v4.4h-4.4zM481.8 130.3h4.4v4.4h-4.4zM482.8 134.1h4.4v4.4h-4.4zM483.8 135.7h4.4v4.4h-4.4zM484.8 126.3h4.4v4.4h-4.4zM485.8 131.5h4.4v4.4h-4.4zM486.8 128.7h4.4v4.4h-4.4zM487.8 131.8h4.4v4.4h-4.4zM488.8 127.5h4.4v4.4h-4.4zM489.8 132.4h4.4v4.4h-4.4zM490.8 132.2h4.4v4.4h-4.4zM491.8 131.1h4.4v4.4h-4.4zM492.8 128.3h4.4v4.4h-4.4zM493.8 130.7h4.4v4.4h-4.4zM494.8 128.0h4.4v4.4h-4.4zM495.8 127.0h4.4v4.4h-4.4zM496.8 132.9h4.4v4.4h-4.4zM497.8 127.8h4.4v4.4h-4.4zM498.8 136.4h4.4v4.4h-4.4zM499.8 134.6h4.4v4.4h-4.4zM500.8 124.3h4.4v4.4h-4.4zM501.8 132.8h4.4v4.4h-4.4zM502.8 127.5h4.4v4.4h-4.4zM503.8 131.8h4.4v4.4h-4.4zM504.8 131.8h4.4v4.4h-4.4zM505.8 124.0h4.4v4.4h-4.4zM506.8 130.5h4.4v4.4h-4.4zM507.8 130.4h4.4v4.4h-4.4zM508.8 134.9h4.4v4.4h-4.4zM509.8 126.7h4.4v4.4h-4.4zM510.8 133.9h4.4v4.4h-4.4zM511.8 126.8h4.4v4.4h-4.4zM512.8 129.6h4.4v4.4h-4.4zM513.8 127.5h4.4v4.4h-4.4zM514.8 136.1h4.4v4.4h-4.4zM515.8 132.6h4.4v4.4h-4.4zM516.8 139.5h4.4v4.4h-4.4zM517.8 132.6h4.4v4.4h-4.4zM518.8 133.1h4.4v4.4h-4.4zM519.8 132.9h4.4v4.4h-4.4zM520.8 127.2h4.4v4.4h-4.4zM521.8 129.1h4.4v4.4h-4.4zM522.8 134.2h4.4v4.4h-4.4zM523.8 127.3h4.4v4.4h-4.4zM524.8 129.3h4.4v4.4h-4.4zM525.8 128.2h4.4v4.4h-4.4zM526.8 130.3h4.4v4.4h-4.4zM527.8 126.2h4.4v4.4h-4.4zM528.8 126.7h4.4v4.4h-4.4zM529.8 127.8h4.4v4.4h-4.4zM530.8 126.8h4.4v4.4h-4.4zM531.8 122.6h4.4v4.4h-4.4zM532.8 128.8h4.4v4.4h-4.4zM533.8 119.9h4.4v4.4h-4.4zM534.8 119.6h4.4v4.4h-4.4zM535.8 118.7h4.4v4.4h-4.4zM536.8 126.4h4.4v4.4h-4.4zM537.8 120.6h4.4v4.4h-4.4zM538.8 117.3h4.4v4.4h-4.4zM539.8 115.7h4.4v4.4h-4.4zM540.8 120.5h4.4v4.4h-4.4zM541.8 113.7h4.4v4.4h-4.4zM542.8 111.5h4.4v4.4h-4.4zM543.8 117.1h4.4v4.4h-4.4zM544.8 108.6h4.4v4.4h-4.4zM598.8 146.9h4.4v4.4h-4.4zM599.8 146.8h4.4v4.4h-4.4zM600.8 143.9h4.4v4.4h-4.4zM601.8 144.3h4.4v4.4h-4.4zM602.8 148.6h4.4v4.4h-4.4zM603.8 138.1h4.4v4.4h-4.4zM604.8 134.5h4.4v4.4h-4.4zM605.8 131.5h4.4v4.4h-4.4zM606.8 137.0h4.4v4.4h-4.4zM607.8 135.9h4.4v4.4h-4.4zM608.8 137.6h4.4v4.4h-4.4zM609.8 134.4h4.4v4.4h-4.4zM610.8 133.8h4.4v4.4h-4.4zM611.8 132.5h4.4v4.4h-4.4zM612.8 132.8h4.4v4.4h-4.4zM613.8 135.0h4.4v4.4h-4.4zM614.8 132.6h4.4v4.4h-4.4zM615.8 134.2h4.4v4.4h-4.4zM616.8 140.7h4.4v4.4h-4.4zM617.8 135.0h4.4v4.4h-4.4zM618.8 127.0h4.4v4.4h-4.4zM619.8 139.3h4.4v4.4h-4.4zM620.8 133.8h4.4v4.4h-4.4zM621.8 128.7h4.4v4.4h-4.4zM622.8 135.6h4.4v4.4h-4.4zM623.8 132.0h4.4v4.4h-4.4zM624.8 129.5h4.4v4.4h-4.4zM625.8 129.2h4.4v4.4h-4.4zM626.8 127.7h4.4v4.4h-4.4zM627.8 131.6h4.4v4.4h-4.4zM628.8 135.3h4.4v4.4h-4.4zM629.8 129.9h4.4v4.4h-4.4zM630.8 132.6h4.4v4.4h-4.4zM631.8 138.1h4.4v4.4h-4.4zM632.8 126.2h4.4v4.4h-4.4zM633.8 131.7h4.4v4.4h-4.4zM634.8 129.5h4.4v4.4h-4.4zM635.8 126.5h4.4v4.4h-4.4zM636.8 126.6h4.4v4.4h-4.4zM637.8 130.4h4.4v4.4h-4.4zM638.8 132.0h4.4v4.4h-4.4zM639.8 128.3h4.4v4.4h-4.4zM640.8 130.4h4.4v4.4h-4.4zM641.8 132.9h4.4v4.4h-4.4zM642.8 131.2h4.4v4.4h-4.4zM643.8 133.4h4.4v4.4h-4.4zM644.8 131.8h4.4v4.4h-4.4zM645.8 131.8h4.4v4.4h-4.4zM646.8 136.9h4.4v4.4h-4.4zM647.8 132.3h4.4v4.4h-4.4zM648.8 130.3h4.4v4.4h-4.4zM649.8 132.5h4.4v4.4h-4.4zM650.8 126.3h4.4v4.4h-4.4zM651.8 128.5h4.4v4.4h-4.4zM652.8 132.7h4.4v4.4h-4.4zM653.8 132.1h4.4v4.4h-4.4zM654.8 135.5h4.4v4.4h-4.4zM655.8 129.7h4.4v4.4h-4.4zM656.8 124.0h4.4v4.4h-4.4zM657.8 137.0h4.4v4.4h-4.4zM658.8 133.7h4.4v4.4h-4.4zM659.8 125.5h4.4v4.4h-4.4zM660.8 134.7h4.4v4.4h-4.4zM661.8 129.6h4.4v4.4h-4.4zM662.8 122.6h4.4v4.4h-4.4zM663.8 127.8h4.4v4.4h-4.4zM664.8 127.5h4.4v4.4h-4.4zM665.8 135.4h4.4v4.4h-4.4zM666.8 126.4h4.4v4.4h-4.4zM667.8 128.4h4.4v4.4h-4.4zM668.8 128.3h4.4v4.4h-4.4zM669.8 127.9h4.4v4.4h-4.4zM670.8 125.8h4.4v4.4h-4.4zM671.8 130.1h4.4v4.4h-4.4zM672.8 133.4h4.4v4.4h-4.4zM673.8 131.6h4.4v4.4h-4.4zM674.8 125.7h4.4v4.4h-4.4zM675.8 124.9h4.4v4.4h-4.4zM676.8 129.7h4.4v4.4h-4.4zM677.8 126.5h4.4v4.4h-4.4zM678.8 126.8h4.4v4.4h-4.4zM679.8 122.8h4.4v4.4h-4.4zM680.8 136.6h4.4v4.4h-4.4zM563.6 31.0h4.4v4.4h-4.4zM561.4 36.9h4.4v4.4h-4.4zM565.3 36.9h4.4v4.4h-4.4zM559.4 42.8h4.4v4.4h-4.4zM567.0 42.8h4.4v4.4h-4.4zM558.3 48.6h4.4v4.4h-4.4zM568.2 54.5h4.4v4.4h-4.4zM560.6 66.5h4.4v4.4h-4.4zM555.8 72.6h4.4v4.4h-4.4zM558.2 75.4h4.4v4.4h-4.4zM555.4 83.8h4.4v4.4h-4.4zM554.0 87.4h4.4v4.4h-4.4zM551.9 93.0h4.4v4.4h-4.4zM568.8 86.7h4.4v4.4h-4.4zM554.6 88.5h4.4v4.4h-4.4zM550.6 93.4h4.4v4.4h-4.4zM553.9 93.7h4.4v4.4h-4.4zM548.9 102.3h4.4v4.4h-4.4zM552.4 103.3h4.4v4.4h-4.4zM542.6 108.2h4.4v4.4h-4.4zM539.8 111.7h4.4v4.4h-4.4zM546.8 111.0h4.4v4.4h-4.4zM546.8 113.2h4.4v4.4h-4.4zM529.2 114.6h4.4v4.4h-4.4zM536.3 118.1h4.4v4.4h-4.4zM537.7 120.2h4.4v4.4h-4.4zM544.0 120.9h4.4v4.4h-4.4zM534.1 123.0h4.4v4.4h-4.4zM538.4 125.1h4.4v4.4h-4.4zM569.4 122.7h4.4v4.4h-4.4zM570.4 145.3h4.4v4.4h-4.4zM571.8 150.5h4.4v4.4h-4.4zM591.1 150.9h4.4v4.4h-4.4zM589.7 156.1h4.4v4.4h-4.4zM572.6 176.5h4.4v4.4h-4.4zM573.6 190.1h4.4v4.4h-4.4zM589.1 158.4h4.4v4.4h-4.4zM592.3 154.2h4.4v4.4h-4.4zM594.4 159.8h4.4v4.4h-4.4zM593.7 164.1h4.4v4.4h-4.4zM588.5 169.7h4.4v4.4h-4.4zM594.7 170.0h4.4v4.4h-4.4zM587.4 181.7h4.4v4.4h-4.4zM585.7 185.9h4.4v4.4h-4.4zM584.6 187.7h4.4v4.4h-4.4zM583.6 196.3h4.4v4.4h-4.4zM585.3 196.7h4.4v4.4h-4.4zM583.8 202.4h4.4v4.4h-4.4zM574.4 208.3h4.4v4.4h-4.4zM581.8 208.3h4.4v4.4h-4.4zM575.8 219.8h4.4v4.4h-4.4zM580.6 219.8h4.4v4.4h-4.4zM578.2 225.9h4.4v4.4h-4.4zM579.6 225.9h4.4v4.4h-4.4zM458.8 119.2h4.4v4.4h-4.4zM466.1 116.5h4.4v4.4h-4.4zM468.3 119.2h4.4v4.4h-4.4zM474.8 117.4h4.4v4.4h-4.4zM470.9 128.1h4.4v4.4h-4.4zM478.5 128.1h4.4v4.4h-4.4zM483.8 127.1h4.4v4.4h-4.4zM489.4 124.4h4.4v4.4h-4.4zM492.2 127.6h4.4v4.4h-4.4zM464.2 146.3h4.4v4.4h-4.4zM476.9 145.8h4.4v4.4h-4.4zM493.8 151.0h4.4v4.4h-4.4zM460.0 137.3h4.4v4.4h-4.4zM482.2 137.8h4.4v4.4h-4.4zM507.2 115.3h4.4v4.4h-4.4zM514.6 114.3h4.4v4.4h-4.4zM529.8 114.7h4.4v4.4h-4.4zM538.9 112.2h4.4v4.4h-4.4zM542.5 108.4h4.4v4.4h-4.4zM546.7 102.5h4.4v4.4h-4.4zM548.8 99.5h4.4v4.4h-4.4zM497.5 123.2h4.4v4.4h-4.4zM525.6 118.9h4.4v4.4h-4.4zM521.3 120.6h4.4v4.4h-4.4zM503.4 141.1h4.4v4.4h-4.4zM501.7 139.0h4.4v4.4h-4.4zM518.2 146.0h4.4v4.4h-4.4zM494.5 150.7h4.4v4.4h-4.4zM530.8 133.8h4.4v4.4h-4.4zM541.4 130.6h4.4v4.4h-4.4zM543.5 120.0h4.4v4.4h-4.4zM639.8 143.8h4.4v4.4h-4.4zM632.5 140.6h4.4v4.4h-4.4zM605.0 128.5h4.4v4.4h-4.4zM623.0 125.8h4.4v4.4h-4.4zM640.9 121.5h4.4v4.4h-4.4zM601.8 158.5h4.4v4.4h-4.4zM591.3 151.1h4.4v4.4h-4.4zM588.1 158.5h4.4v4.4h-4.4zM608.2 146.8h4.4v4.4h-4.4zM641.8 121.2h4.4v4.4h-4.4zM663.7 119.3h4.4v4.4h-4.4zM674.3 118.3h4.4v4.4h-4.4zM679.2 124.1h4.4v4.4h-4.4zM632.1 140.6h4.4v4.4h-4.4zM639.4 143.5h4.4v4.4h-4.4zM644.8 143.5h4.4v4.4h-4.4zM653.0 136.7h4.4v4.4h-4.4zM674.3 137.7h4.4v4.4h-4.4z" fill="#000"/>
<polyline points="460.0,133.14 460.5,133.14 461.0,133.13 461.5,133.13 462.0,133.12 462.5,133.12 463.0,133.11 463.5,133.11 464.0,133.10 464.5,133.10 465.0,133.09 465.5,133.09 466.0,133.08 466.5,133.08 467.0,133.07 467.5,133.06 468.0,133.06 468.5,133.05 469.0,133.05 469.5,133.04 470.0,133.03 470.5,133.03 471.0,133.02 471.5,133.01 472.0,133.00 472.5,133.00 473.0,132.99 473.5,132.98 474.0,132.97 474.5,132.97 475.0,132.96 475.5,132.95 476.0,132.94 476.5,132.93 477.0,132.92 477.5,132.92 478.0,132.91 478.5,132.90 479.0,132.89 479.5,132.88 480.0,132.87 480.5,132.86 481.0,132.85 481.5,132.84 482.0,132.83 482.5,132.82 483.0,132.80 483.5,132.79 484.0,132.78 484.5,132.77 485.0,132.76 485.5,132.75 486.0,132.73 486.5,132.72 487.0,132.71 487.5,132.69 488.0,132.68 488.5,132.66 489.0,132.65 489.5,132.63 490.0,132.62 490.5,132.60 491.0,132.59 491.5,132.57 492.0,132.55 492.5,132.54 493.0,132.52 493.5,132.50 494.0,132.48 494.5,132.46 495.0,132.44 495.5,132.42 496.0,132.40 496.5,132.38 497.0,132.36 497.5,132.34 498.0,132.32 498.5,132.29 499.0,132.27 499.5,132.25 500.0,132.22 500.5,132.20 501.0,132.17 501.5,132.14 502.0,132.11 502.5,132.09 503.0,132.06 503.5,132.03 504.0,131.99 504.5,131.96 505.0,131.93 505.5,131.90 506.0,131.86 506.5,131.83 507.0,131.79 507.5,131.75 508.0,131.71 508.5,131.67 509.0,131.63 509.5,131.59 510.0,131.55 510.5,131.50 511.0,131.45 511.5,131.41 512.0,131.36 512.5,131.31 513.0,131.25 513.5,131.20 514.0,131.14 514.5,131.09 515.0,131.03 515.5,130.97 516.0,130.90 516.5,130.84 517.0,130.77 517.5,130.70 518.0,130.63 518.5,130.55 519.0,130.48 519.5,130.40 520.0,130.31 520.5,130.23 521.0,130.14 521.5,130.05 522.0,129.95 522.5,129.85 523.0,129.75 523.5,129.64 524.0,129.53 524.5,129.42 525.0,129.30 525.5,129.18 526.0,129.05 526.5,128.92 527.0,128.78 527.5,128.64 528.0,128.49 528.5,128.33 529.0,128.17 529.5,128.00 530.0,127.83 530.5,127.64 531.0,127.45 531.5,127.26 532.0,127.05 532.5,126.84 533.0,126.61 533.5,126.38 534.0,126.13 534.5,125.88 535.0,125.61 535.5,125.33 536.0,125.04 536.5,124.73 537.0,124.41 537.5,124.08 538.0,123.72 538.5,123.36 539.0,122.97 539.5,122.57 540.0,122.14 540.5,121.70 541.0,121.23 541.5,120.74 542.0,120.22 542.5,119.68 543.0,119.11 543.5,118.51 544.0,117.87 544.5,117.21 545.0,116.51 545.5,115.77 546.0,114.99 546.5,114.17 547.0,113.31 547.5,112.39 548.0,111.43 548.5,110.41 549.0,109.34 549.5,108.21 550.0,107.01 550.5,105.75 551.0,104.42 551.5,103.01 552.0,101.53 552.5,99.96 553.0,98.31 553.5,96.57 554.0,94.73 554.5,92.80 555.0,90.77 555.5,88.63 556.0,86.39 556.5,84.05 557.0,81.60 557.5,79.04 558.0,76.38 558.5,73.62 559.0,70.77 559.5,67.85 560.0,64.85 560.5,61.82 561.0,58.76 561.5,55.70 562.0,52.69 562.5,49.77 563.0,46.98 563.5,44.40 564.0,42.08 564.5,40.11 565.0,38.58 565.5,37.57 566.0,37.20 566.5,37.57 567.0,38.77 567.5,40.92 568.0,44.10 568.5,48.39 569.0,53.84 569.5,60.46 570.0,68.25 570.5,77.15 571.0,87.06 571.5,97.84 572.0,109.32 572.5,121.29 573.0,133.50 573.5,145.62 574.0,157.50 574.5,168.90 575.0,179.60 575.5,189.44 576.0,198.28 576.5,206.01 577.0,212.58 577.5,217.99 578.0,222.25 578.5,225.40 579.0,227.54 579.5,228.74 580.0,229.10 580.5,228.73 581.0,227.73 581.5,226.21 582.0,224.26 582.5,221.96 583.0,219.39 583.5,216.62 584.0,213.72 584.5,210.73 585.0,207.70 585.5,204.66 586.0,201.65 586.5,198.68 587.0,195.77 587.5,192.94 588.0,190.21 588.5,187.57 589.0,185.03 589.5,182.59 590.0,180.26 590.5,178.04 591.0,175.92 591.5,173.90 592.0,171.98 592.5,170.16 593.0,168.43 593.5,166.79 594.0,165.24 594.5,163.77 595.0,162.37 595.5,161.05 596.0,159.79 596.5,158.61 597.0,157.48 597.5,156.42 598.0,155.41 598.5,154.45 599.0,153.55 599.5,152.69 600.0,151.87 600.5,151.10 601.0,150.37 601.5,149.67 602.0,149.01 602.5,148.38 603.0,147.79 603.5,147.22 604.0,146.68 604.5,146.17 605.0,145.68 605.5,145.22 606.0,144.78 606.5,144.35 607.0,143.95 607.5,143.57 608.0,143.20 608.5,142.86 609.0,142.52 609.5,142.21 610.0,141.90 610.5,141.61 611.0,141.33 611.5,141.07 612.0,140.82 612.5,140.57 613.0,140.34 613.5,140.12 614.0,139.90 614.5,139.70 615.0,139.50 615.5,139.31 616.0,139.13 616.5,138.96 617.0,138.79 617.5,138.63 618.0,138.48 618.5,138.33 619.0,138.19 619.5,138.05 620.0,137.92 620.5,137.79 621.0,137.67 621.5,137.55 622.0,137.44 622.5,137.33 623.0,137.22 623.5,137.12 624.0,137.02 624.5,136.93 625.0,136.84 625.5,136.75 626.0,136.66 626.5,136.58 627.0,136.50 627.5,136.43 628.0,136.35 628.5,136.28 629.0,136.21 629.5,136.14 630.0,136.08 630.5,136.02 631.0,135.95 631.5,135.90 632.0,135.84 632.5,135.78 633.0,135.73 633.5,135.68 634.0,135.63 634.5,135.58 635.0,135.53 635.5,135.48 636.0,135.44 636.5,135.40 637.0,135.35 637.5,135.31 638.0,135.27 638.5,135.24 639.0,135.20 639.5,135.16 640.0,135.13 640.5,135.09 641.0,135.06 641.5,135.03 642.0,134.99 642.5,134.96 643.0,134.93 643.5,134.90 644.0,134.88 644.5,134.85 645.0,134.82 645.5,134.80 646.0,134.77 646.5,134.74 647.0,134.72 647.5,134.70 648.0,134.67 648.5,134.65 649.0,134.63 649.5,134.61 650.0,134.59 650.5,134.57 651.0,134.55 651.5,134.53 652.0,134.51 652.5,134.49 653.0,134.47 653.5,134.46 654.0,134.44 654.5,134.42 655.0,134.41 655.5,134.39 656.0,134.37 656.5,134.36 657.0,134.34 657.5,134.33 658.0,134.32 658.5,134.30 659.0,134.29 659.5,134.28 660.0,134.26 660.5,134.25 661.0,134.24 661.5,134.22 662.0,134.21 662.5,134.20 663.0,134.19 663.5,134.18 664.0,134.17 664.5,134.16 665.0,134.15 665.5,134.14 666.0,134.13 666.5,134.12 667.0,134.11 667.5,134.10 668.0,134.09 668.5,134.08 669.0,134.07 669.5,134.06 670.0,134.05 670.5,134.05 671.0,134.04 671.5,134.03 672.0,134.02 672.5,134.01 673.0,134.01 673.5,134.00 674.0,133.99 674.5,133.98 675.0,133.98 675.5,133.97 676.0,133.96 676.5,133.96 677.0,133.95 677.5,133.94 678.0,133.94 678.5,133.93 679.0,133.93 679.5,133.92 680.0,133.92 680.5,133.91 681.0,133.90 681.5,133.90 682.0,133.89 682.5,133.89 683.0,133.88 683.5,133.88 684.0,133.87" fill="none" stroke="#ee1c1c" stroke-width="2.0" stroke-linejoin="miter"/>
<line x1="527" y1="178" x2="566.5" y2="136.7" stroke="#111" stroke-width="1.1"/>
<path d="M570.9 132.1 L564.9 134.6 L568.9 138.2 Z" fill="#111"/>
<rect x="459.7" y="15.6" width="224.3" height="236.3" fill="none" stroke="#333" stroke-width="1.1"/>
<path d="M459.7 30.37h1.6M684.0 30.37h-1.6M459.7 45.14h3.5M684.0 45.14h-3.5M459.7 59.91h1.6M684.0 59.91h-1.6M459.7 74.67h3.5M684.0 74.67h-3.5M459.7 89.44h1.6M684.0 89.44h-1.6M459.7 104.21h3.5M684.0 104.21h-3.5M459.7 118.98h1.6M684.0 118.98h-1.6M459.7 133.75h3.5M684.0 133.75h-3.5M459.7 148.52h1.6M684.0 148.52h-1.6M459.7 163.29h3.5M684.0 163.29h-3.5M459.7 178.06h1.6M684.0 178.06h-1.6M459.7 192.83h3.5M684.0 192.83h-3.5M459.7 207.59h1.6M684.0 207.59h-1.6M459.7 222.36h3.5M684.0 222.36h-3.5M459.7 237.13h1.6M684.0 237.13h-1.6M484.4 251.9v-3.5M484.4 15.6v3.5M528.3 251.9v-1.6M528.3 15.6v1.6M572.2 251.9v-3.5M572.2 15.6v3.5M616.1 251.9v-1.6M616.1 15.6v1.6M660.0 251.9v-3.5M660.0 15.6v3.5" stroke="#333" stroke-width="1" fill="none"/>
<text x="484.4" y="264" font-size="10.5" text-anchor="middle">3342.9</text>
<text x="572.2" y="264" font-size="10.5" text-anchor="middle">3343.25</text>
<text x="660.0" y="264" font-size="10.5" text-anchor="middle">3343.6</text>
<text x="572.2" y="282" font-size="10.5" text-anchor="middle">Magnetic field [G]</text>
<text transform="translate(452.3,133.2) rotate(-90)" font-size="10.5" text-anchor="middle">ESR intensity [arb.units]</text>
<text x="597" y="98.2" font-size="10.5"><tspan font-style="italic">B</tspan><tspan font-size="7.5" dy="2.3" font-style="italic" fill="#444" stroke="#444">pp</tspan><tspan dy="-2.3" dx="0.5"> = 0.05 G</tspan></text>
<text x="483.8" y="194.3" font-size="10.5"><tspan font-style="italic">g</tspan> = 2.0024</text>
</svg>
</body></html>
